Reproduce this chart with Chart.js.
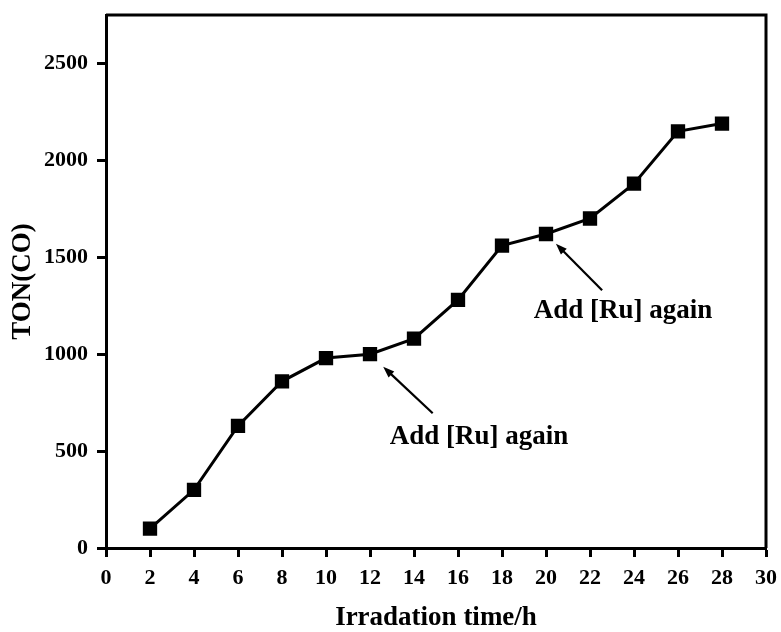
<!DOCTYPE html>
<html>
<head>
<meta charset="utf-8">
<script src="https://cdn.jsdelivr.net/npm/chart.js@4"></script>
<style>
    html, body { margin: 0; padding: 0; background: #fff; }
    #wrap { width: 781px; height: 632px; }
</style>
</head>
<body>
<div id="wrap"><canvas id="tonChart" width="781" height="632"></canvas></div>
<script>
// Irradiation time (h) and turnover number of CO
const hours = [2, 4, 6, 8, 10, 12, 14, 16, 18, 20, 22, 24, 26, 28];
const tonCO = [100, 300, 630, 860, 980, 1000, 1080, 1280, 1560, 1620, 1700, 1880, 2150, 2190];

const xTicks = [0, 2, 4, 6, 8, 10, 12, 14, 16, 18, 20, 22, 24, 26, 28, 30];
const yTicks = [0, 500, 1000, 1500, 2000, 2500];

// arrow notes, given in axis units: tail -> tip, text centre
const notes = [
    { text: 'Add [Ru] again', tail: [14.85, 695], tip: [12.6, 935], label: [16.95, 570] },
    { text: 'Add [Ru] again', tail: [22.55, 1330], tip: [20.45, 1570], label: [23.5, 1225] }
];

const FONT = '"Liberation Serif", "Times New Roman", serif';

// closes the box on top and right, then draws the arrows and notes
const framePlugin = {
    id: 'frame',
    afterDatasetsDraw(chart) {
        const { ctx, chartArea: a, scales } = chart;
        ctx.save();
        ctx.strokeStyle = '#000';
        ctx.lineWidth = 3;
        ctx.beginPath();
        ctx.moveTo(a.left, a.top);
        ctx.lineTo(a.right, a.top);
        ctx.lineTo(a.right, a.bottom);
        ctx.stroke();

        notes.forEach(n => {
            const x1 = scales.x.getPixelForValue(n.tail[0]);
            const y1 = scales.y.getPixelForValue(n.tail[1]);
            const x2 = scales.x.getPixelForValue(n.tip[0]);
            const y2 = scales.y.getPixelForValue(n.tip[1]);
            const ang = Math.atan2(y2 - y1, x2 - x1);
            const head = 12;
            ctx.lineWidth = 2.2;
            ctx.beginPath();
            ctx.moveTo(x1, y1);
            ctx.lineTo(x2 - Math.cos(ang) * head * 0.8, y2 - Math.sin(ang) * head * 0.8);
            ctx.stroke();
            ctx.fillStyle = '#000';
            ctx.beginPath();
            ctx.moveTo(x2, y2);
            ctx.lineTo(x2 - head * Math.cos(ang - 0.35), y2 - head * Math.sin(ang - 0.35));
            ctx.lineTo(x2 - head * Math.cos(ang + 0.35), y2 - head * Math.sin(ang + 0.35));
            ctx.closePath();
            ctx.fill();

            ctx.font = 'bold 27px ' + FONT;
            ctx.textAlign = 'center';
            ctx.textBaseline = 'middle';
            ctx.fillText(n.text, scales.x.getPixelForValue(n.label[0]), scales.y.getPixelForValue(n.label[1]));
        });
        ctx.restore();
    }
};

new Chart(document.getElementById('tonChart').getContext('2d'), {
    type: 'scatter',
    data: {
        datasets: [{
            label: 'TON(CO)',
            data: hours.map((h, i) => ({ x: h, y: tonCO[i] })),
            showLine: true,
            borderColor: '#000',
            backgroundColor: '#000',
            borderWidth: 3,
            pointStyle: 'rect',
            pointRadius: 8,
            pointHoverRadius: 8,
            tension: 0
        }]
    },
    options: {
        responsive: false,
        animation: false,
        layout: { padding: { top: 15, right: 15, left: 0, bottom: 0 } },
        plugins: {
            legend: { display: false },
            tooltip: { enabled: false }
        },
        scales: {
            x: {
                type: 'linear',
                min: 0,
                max: 30,
                afterBuildTicks: s => { s.ticks = xTicks.map(v => ({ value: v })); },
                afterFit: s => {
                    s.height = 84;
                    s.paddingLeft = 0;
                    s.paddingRight = 0;
                },
                border: { color: '#000', width: 3 },
                grid: { drawOnChartArea: false, color: '#000', tickLength: 9, tickWidth: 3, tickColor: '#000' },
                ticks: {
                    color: '#000',
                    padding: 8,
                    maxRotation: 0,
                    callback: v => String(v),
                    font: { family: FONT, size: 22, weight: 'bold' }
                },
                title: {
                    display: true,
                    text: 'Irradation time/h',
                    color: '#000',
                    padding: { top: 0, bottom: 0 },
                    font: { family: FONT, size: 27, weight: 'bold', lineHeight: 1 }
                }
            },
            y: {
                type: 'linear',
                min: 0,
                max: 2750,
                afterBuildTicks: s => { s.ticks = yTicks.map(v => ({ value: v })); },
                afterFit: s => {
                    s.width = 106;
                    s.paddingTop = 0;
                    s.paddingBottom = 0;
                },
                border: { color: '#000', width: 3 },
                grid: { drawOnChartArea: false, color: '#000', tickLength: 9, tickWidth: 3, tickColor: '#000' },
                ticks: {
                    color: '#000',
                    padding: 9,
                    callback: v => String(v),
                    font: { family: FONT, size: 22, weight: 'bold' }
                },
                title: {
                    display: true,
                    text: 'TON(CO)',
                    color: '#000',
                    padding: { top: 10, bottom: 0 },
                    font: { family: FONT, size: 27, weight: 'bold', lineHeight: 1 }
                }
            }
        }
    },
    plugins: [framePlugin]
});
</script>
</body>
</html>
